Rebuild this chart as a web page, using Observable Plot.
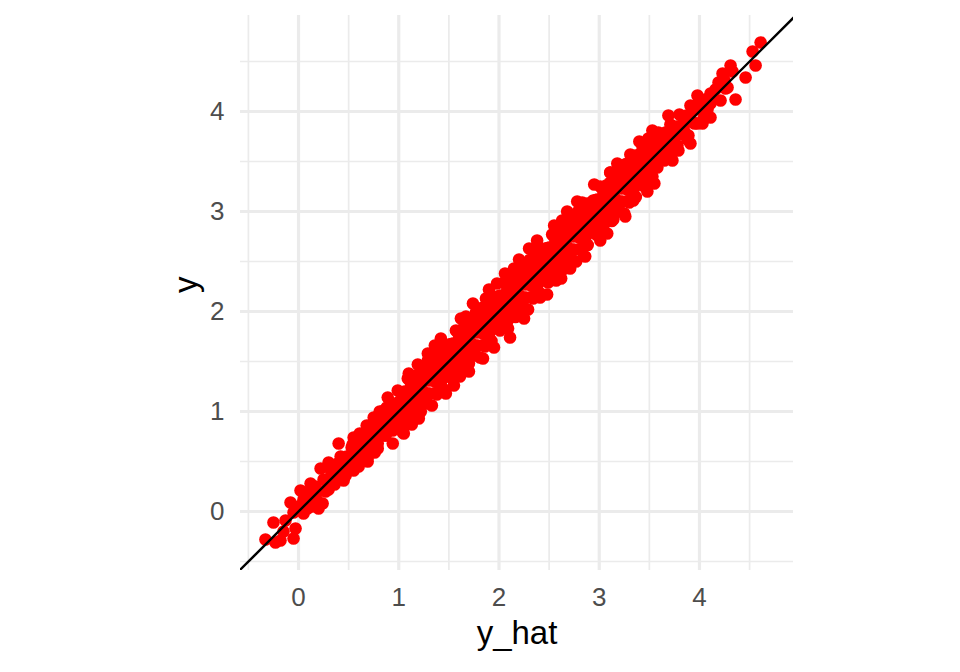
<!DOCTYPE html>
<html>
<head>
<meta charset="utf-8">
<script src="https://cdn.jsdelivr.net/npm/d3@7"></script>
<script src="https://cdn.jsdelivr.net/npm/@observablehq/plot@0.6"></script>
<style>
  html, body { margin: 0; padding: 0; background: #ffffff; }
  #chart svg { display: block; }
</style>
</head>
<body>
<div id="chart"></div>
<script>
// ---- Data: [y_hat, y] pairs ----
const lowTail = [
  [-0.33,-0.28],[-0.23,-0.31],[-0.18,-0.29],[-0.25,-0.11],[-0.13,-0.09],[-0.05,-0.27],
  [-0.03,-0.17],[-0.08,0.09],[0.02,0.06],[0.07,0.19],[0.05,-0.02],[0.20,0.03],[0.24,0.08],
  [0.12,0.28],[0.22,0.43],[0.19,0.21],[0.30,0.49],[0.39,0.48],[0.40,0.68],[0.45,0.31],
  [0.55,0.74],[0.65,0.78],[0.69,0.54],[0.75,0.94],[0.85,1.01],[0.79,0.68],[0.94,0.68],
  [1.04,0.79],[0.89,1.14],[0.99,1.21],[1.12,1.18],[-0.05,-0.01],[0.02,0.21],[-0.15,-0.20],
  [0.10,0.12],[0.15,0.18],[0.28,0.30],[0.33,0.38],[0.36,0.27],[0.42,0.40],[0.48,0.55],
  [0.27,0.20],[0.13,0.05],[0.17,0.25],[0.32,0.42],[0.44,0.47],[0.38,0.35],[0.47,0.36],
  [-0.01,0.02],[0.09,0.03],[0.25,0.32],[0.35,0.45],[0.18,0.12],[0.05,0.12],[0.42,0.55],
  [0.30,0.22],[0.46,0.50],[0.14,0.22],[0.34,0.30],[0.49,0.42]
];
const lowBand = [
  [0.50,0.52],[0.52,0.42],[0.54,0.67],[0.56,0.52],[0.58,0.65],[0.60,0.45],[0.62,0.72],
  [0.64,0.63],[0.66,0.54],[0.68,0.86],[0.70,0.74],[0.72,0.65],[0.74,0.83],[0.76,0.59],
  [0.78,0.78],[0.80,0.94],[0.82,0.77],[0.84,0.90],[0.86,0.76],[0.88,1.04],[0.90,0.88],
  [0.92,1.00],[0.94,0.81],[0.96,1.00],[0.98,0.92],
  [0.51,0.48],[0.53,0.64],[0.55,0.41],[0.57,0.62],[0.59,0.51],[0.61,0.78],[0.63,0.64],
  [0.65,0.55],[0.67,0.75],[0.69,0.50],[0.71,0.74],[0.73,0.87],[0.75,0.70],[0.77,0.87],
  [0.79,0.63],[0.81,1.00],[0.83,0.81],[0.85,0.91],[0.87,0.76],[0.89,0.91],[0.91,1.06],
  [0.93,0.85],[0.95,1.00],[0.97,0.91],[0.99,1.09]
];
const core = [
  [1.00,1.03],[1.01,0.89],[1.02,1.19],[1.03,0.98],[1.04,1.13],[1.05,0.85],[1.06,1.20],[1.07,1.06],
  [1.08,0.92],[1.09,1.33],[1.10,1.16],[1.11,1.02],[1.12,1.24],[1.13,0.87],[1.14,1.14],[1.15,1.34],
  [1.16,1.09],[1.17,1.25],[1.18,1.04],[1.19,1.47],[1.20,1.17],[1.21,1.32],[1.22,1.00],[1.23,1.28],
  [1.24,1.20],[1.25,1.40],[1.26,1.08],[1.27,1.34],[1.28,1.18],[1.29,1.51],[1.30,1.31],[1.31,1.18],
  [1.32,1.42],[1.33,1.06],[1.34,1.38],[1.35,1.53],[1.36,1.30],[1.37,1.50],[1.38,1.17],[1.39,1.65],
  [1.40,1.38],[1.41,1.49],[1.42,1.27],[1.43,1.45],[1.44,1.64],[1.45,1.34],[1.46,1.52],[1.47,1.39],
  [1.48,1.51],[1.49,1.37],[1.50,1.67],[1.51,1.46],[1.52,1.61],[1.53,1.33],[1.54,1.68],[1.55,1.54],
  [1.56,1.40],[1.57,1.81],[1.58,1.64],[1.59,1.50],[1.60,1.72],[1.61,1.35],[1.62,1.62],[1.63,1.82],
  [1.64,1.57],[1.65,1.73],[1.66,1.52],[1.67,1.95],[1.68,1.65],[1.69,1.80],[1.70,1.48],[1.71,1.76],
  [1.72,1.68],[1.73,1.88],[1.74,1.56],[1.75,1.82],[1.76,1.66],[1.77,1.99],[1.78,1.79],[1.79,1.66],
  [1.80,1.90],[1.81,1.54],[1.82,1.86],[1.83,2.01],[1.84,1.78],[1.85,1.98],[1.86,1.65],[1.87,2.13],
  [1.88,1.86],[1.89,1.97],[1.90,1.75],[1.91,1.93],[1.92,2.12],[1.93,1.82],[1.94,2.00],[1.95,1.87],
  [1.96,1.99],[1.97,1.85],[1.98,2.15],[1.99,1.94],[2.00,2.09],[2.01,1.81],[2.02,2.16],[2.03,2.02],
  [2.04,1.88],[2.05,2.29],[2.06,2.12],[2.07,1.98],[2.08,2.20],[2.09,1.83],[2.10,2.10],[2.11,2.30],
  [2.12,2.05],[2.13,2.21],[2.14,2.00],[2.15,2.43],[2.16,2.13],[2.17,2.28],[2.18,1.96],[2.19,2.24],
  [2.20,2.16],[2.21,2.36],[2.22,2.04],[2.23,2.30],[2.24,2.14],[2.25,2.47],[2.26,2.27],[2.27,2.14],
  [2.28,2.38],[2.29,2.02],[2.30,2.34],[2.31,2.49],[2.32,2.26],[2.33,2.46],[2.34,2.13],[2.35,2.61],
  [2.36,2.34],[2.37,2.45],[2.38,2.23],[2.39,2.41],[2.40,2.60],[2.41,2.30],[2.42,2.48],[2.43,2.35],
  [2.44,2.47],[2.45,2.33],[2.46,2.63],[2.47,2.42],[2.48,2.57],[2.49,2.29],[2.50,2.64],[2.51,2.50],
  [2.52,2.36],[2.53,2.77],[2.54,2.60],[2.55,2.46],[2.56,2.68],[2.57,2.31],[2.58,2.58],[2.59,2.78],
  [2.60,2.53],[2.61,2.69],[2.62,2.48],[2.63,2.91],[2.64,2.61],[2.65,2.76],[2.66,2.44],[2.67,2.72],
  [2.68,2.64],[2.69,2.84],[2.70,2.52],[2.71,2.78],[2.72,2.62],[2.73,2.95],[2.74,2.75],[2.75,2.62],
  [2.76,2.86],[2.77,2.50],[2.78,2.82],[2.79,2.97],[2.80,2.74],[2.81,2.94],[2.82,2.61],[2.83,3.09],
  [2.84,2.82],[2.85,2.93],[2.86,2.71],[2.87,2.89],[2.88,3.08],[2.89,2.78],[2.90,2.96],[2.91,2.83],
  [2.92,2.95],[2.93,2.81],[2.94,3.11],[2.95,2.90],[2.96,3.05],[2.97,2.77],[2.98,3.12],[2.99,2.98],
  [3.00,2.84],[3.01,3.25],[3.02,3.08],[3.03,2.94],[3.04,3.16],[3.05,2.79],[3.06,3.06],[3.07,3.26],
  [3.08,3.01],[3.09,3.17],[3.10,2.96],[3.11,3.39],[3.12,3.09],[3.13,3.24],[3.14,2.92],[3.15,3.20],
  [3.16,3.12],[3.17,3.32],[3.18,3.00],[3.19,3.26],[3.20,3.10],[3.21,3.43],[3.22,3.23],[3.23,3.10],
  [3.24,3.34],[3.25,2.98],[3.26,3.30],[3.27,3.45],[3.28,3.22],[3.29,3.42],[3.30,3.09],[3.31,3.57],
  [3.32,3.30],[3.33,3.41],[3.34,3.19],[3.35,3.37],[3.36,3.56],[3.37,3.26],[3.38,3.44],[3.39,3.31],
  [3.40,3.43],[3.41,3.29],[3.42,3.59],[3.43,3.38],[3.44,3.53],[3.45,3.25],[3.46,3.60],[3.47,3.46],
  [3.48,3.32],[3.49,3.73],[3.50,3.56],[3.51,3.42],[3.52,3.64],[3.53,3.35],[3.54,3.54],[3.55,3.70],
  [3.56,3.49],[3.57,3.65],[3.58,3.44],[3.59,3.79],[3.60,3.57]
];
const coreFill = [
  [1.005,1.075],[1.025,0.945],[1.045,1.195],[1.065,0.935],[1.085,1.105],[1.105,1.315],[1.125,0.945],
  [1.145,1.255],[1.165,1.125],[1.185,1.365],[1.205,0.985],[1.225,1.315],[1.245,1.315],[1.265,1.185],
  [1.285,1.435],[1.305,1.175],[1.325,1.345],[1.345,1.555],[1.365,1.185],[1.385,1.495],[1.405,1.365],
  [1.425,1.605],[1.445,1.225],[1.465,1.555],[1.485,1.555],[1.505,1.425],[1.525,1.675],[1.545,1.415],
  [1.565,1.585],[1.585,1.795],[1.605,1.425],[1.625,1.735],[1.645,1.605],[1.665,1.845],[1.685,1.465],
  [1.705,1.795],[1.725,1.795],[1.745,1.665],[1.765,1.915],[1.785,1.655],[1.805,1.825],[1.825,2.035],
  [1.845,1.665],[1.865,1.975],[1.885,1.845],[1.905,2.085],[1.925,1.705],[1.945,2.035],[1.965,2.035],
  [1.985,1.905],[2.005,2.155],[2.025,1.895],[2.045,2.065],[2.065,2.275],[2.085,1.905],[2.105,2.215],
  [2.125,2.085],[2.145,2.325],[2.165,1.945],[2.185,2.275],[2.205,2.275],[2.225,2.145],[2.245,2.395],
  [2.265,2.135],[2.285,2.305],[2.305,2.515],[2.325,2.145],[2.345,2.455],[2.365,2.325],[2.385,2.565],
  [2.405,2.185],[2.425,2.515],[2.445,2.515],[2.465,2.385],[2.485,2.635],[2.505,2.375],[2.525,2.545],
  [2.545,2.755],[2.565,2.385],[2.585,2.695],[2.605,2.565],[2.625,2.805],[2.645,2.425],[2.665,2.755],
  [2.685,2.755],[2.705,2.625],[2.725,2.875],[2.745,2.615],[2.765,2.785],[2.785,2.995],[2.805,2.625],
  [2.825,2.935],[2.845,2.805],[2.865,3.045],[2.885,2.665],[2.905,2.995],[2.925,2.995],[2.945,2.865],
  [2.965,3.115],[2.985,2.855],[3.005,3.025],[3.025,3.235],[3.045,2.865],[3.065,3.175],[3.085,3.045],
  [3.105,3.285],[3.125,2.905],[3.145,3.235],[3.165,3.235],[3.185,3.105],[3.205,3.355],[3.225,3.095],
  [3.245,3.265],[3.265,3.475],[3.285,3.105],[3.305,3.415],[3.325,3.285],[3.345,3.525],[3.365,3.145],
  [3.385,3.475],[3.405,3.475],[3.425,3.345],[3.445,3.595],[3.465,3.335],[3.485,3.505],[3.505,3.715],
  [3.525,3.345],[3.545,3.655],[3.565,3.525],[3.585,3.765]
];
const edgePoints = [
  [1.29,1.58],[1.84,1.53],[1.47,1.18],[2.41,2.14],[2.11,1.74],[1.98,2.28],[1.74,2.08],[2.06,2.38],
  [2.71,2.43],[3.11,3.39],[2.38,2.71],[3.01,2.71],[3.34,3.11],[2.81,3.04],[1.10,1.38],[1.20,0.93],
  [1.36,1.66],[1.55,1.26],[1.62,1.93],[1.70,1.40],[1.90,2.22],[1.95,1.64],[2.20,2.52],[2.25,1.93],
  [2.30,2.63],[2.48,2.17],[2.55,2.86],[2.62,2.33],[2.78,3.10],[2.86,2.55],[2.95,3.27],[3.08,2.78],
  [3.18,3.48],[3.26,2.95],[3.40,3.70],[3.48,3.20],[1.05,0.78],[1.42,1.73],[2.68,3.00],[3.55,3.28]
];
const highBand = [
  [3.62,3.65],[3.64,3.54],[3.66,3.79],[3.68,3.64],[3.70,3.77],[3.72,3.57],[3.74,3.84],[3.76,3.75],
  [3.78,3.66],[3.80,3.97],[3.82,3.86],[3.84,3.77],[3.86,3.95],[3.88,3.72],[3.90,3.90],[3.92,4.05],
  [3.94,3.89],[3.96,4.02],[3.98,3.88],[4.00,4.10],
  [3.61,3.58],[3.63,3.74],[3.65,3.51],[3.67,3.72],[3.69,3.61],[3.71,3.87],[3.73,3.74],[3.75,3.65],
  [3.77,3.85],[3.79,3.61],[3.81,3.84],[3.83,3.95],[3.85,3.80],[3.87,3.96],[3.89,3.76],[3.91,3.97],
  [3.95,3.88],[3.99,4.03]
];
const highTail = [
  [4.61,4.69],[4.53,4.60],[4.56,4.46],[4.46,4.34],[4.36,4.12],[4.31,4.46],[4.23,4.38],[4.19,4.29],
  [4.26,4.23],[4.11,4.18],[3.98,4.16],[3.99,4.08],[4.04,3.93],[3.91,4.06],[3.69,3.96],[4.11,4.08],
  [4.21,4.11],[3.53,3.81],[3.91,3.68],[3.73,3.51],[3.43,3.66],[4.03,3.88],[4.11,3.94],[4.28,4.24],
  [4.16,4.22],[4.08,4.02],[4.14,4.14],[4.33,4.40],[4.06,4.12],[4.25,4.31]
];
const majorTicks = [0, 1, 2, 3, 4];
const minorTicks = [-0.5, 0.5, 1.5, 2.5, 3.5, 4.5];
const xDomain = [-0.579, 4.938];
const yDomain = [-0.59, 4.96];
const abline = {intercept: 0, slope: 1};
const xTitle = "y_hat";
const yTitle = "y";

const points = [...lowTail, ...lowBand, ...core, ...coreFill, ...edgePoints, ...highBand, ...highTail]
  .map(([yh, y]) => ({y_hat: yh, y}));
const ablineData = xDomain.map(x => ({x, y: abline.intercept + abline.slope * x}));

const gridColor = "#ebebeb";
const tickFont = 26;
const titleFont = 33;
const chart = Plot.plot({
  width: 960,
  height: 672,
  marginLeft: 240,
  marginRight: 167,
  marginTop: 15,
  marginBottom: 102,
  x: {domain: xDomain},
  y: {domain: yDomain},
  style: {fontFamily: "'Liberation Sans', Arial, sans-serif", background: "#ffffff", color: "#000", fontSize: tickFont + "px"},
  marks: [
    Plot.gridX(minorTicks, {stroke: gridColor, strokeOpacity: 1, strokeWidth: 1.7}),
    Plot.gridY(minorTicks, {stroke: gridColor, strokeOpacity: 1, strokeWidth: 1.7}),
    Plot.gridX(majorTicks, {stroke: gridColor, strokeOpacity: 1, strokeWidth: 3.2}),
    Plot.gridY(majorTicks, {stroke: gridColor, strokeOpacity: 1, strokeWidth: 3.2}),
    Plot.axisX(majorTicks, {tickSize: 0, tickPadding: 17, fontSize: tickFont, color: "#4d4d4d", tickFormat: d => String(d), label: null}),
    Plot.axisY(majorTicks, {tickSize: 0, tickPadding: 16, fontSize: tickFont, color: "#4d4d4d", tickFormat: d => String(d), label: null}),
    Plot.dot(points, {x: "y_hat", y: "y", r: 6.3, fill: "#ff0000", stroke: "none"}),
    Plot.line(ablineData, {x: "x", y: "y", stroke: "#000", strokeWidth: 2.4, clip: true}),
    Plot.text([xTitle], {frameAnchor: "bottom", lineAnchor: "top", dy: 50, fontSize: titleFont, fill: "#000"}),
    Plot.text([yTitle], {frameAnchor: "left", dx: -54, rotate: -90, fontSize: titleFont, fill: "#000"})
  ]
});
document.getElementById("chart").appendChild(chart);
</script>
</body>
</html>
